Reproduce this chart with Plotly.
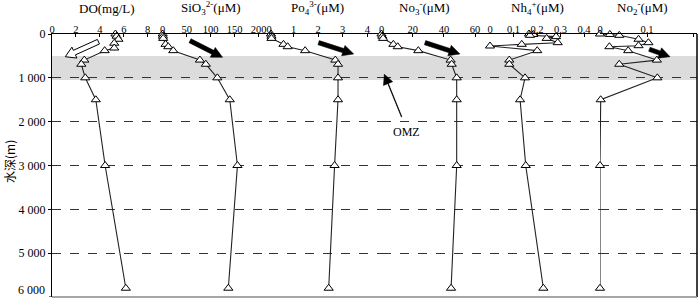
import plotly.graph_objects as go
import numpy as np

# ---------------- data ----------------
do_depth = [0, 50, 120, 210, 320, 380, 595, 690, 1000, 1500, 3000, 5800]
do_vals = [5.3, 5.4, 5.55, 5.2, 5.2, 4.4, 2.7, 2.45, 2.78, 3.66, 4.44, 6.17]

si_depth = [0, 50, 100, 236, 290, 380, 595, 690, 1000, 1500, 3000, 5800]
si_vals = [0, 0.5, 1, 6, 11.7, 22, 77.7, 90, 114, 140, 156, 137]

po_depth = [0, 50, 100, 236, 290, 380, 595, 690, 1000, 1500, 3000, 5800]
po_vals = [0.08, 0.1, 0.1, 0.59, 0.76, 1.47, 2.70, 2.81, 2.81, 2.81, 2.67, 2.43]

no3_depth = [0, 50, 100, 236, 290, 380, 595, 690, 1000, 1500, 3000, 5800]
no3_vals = [0, 0.5, 1, 7.6, 10.4, 23.6, 44.3, 45, 48.2, 48.2, 48.2, 44.6]

nh4_depth = [0, 10, 30, 60, 100, 198, 236, 274, 380, 595, 690, 1000, 1500, 3000, 5800]
nh4_vals = [0.166, 0.184, 0.17, 0.281, 0.241, 0.288, 0.135, 0.0, 0.201, 0.082, 0.082, 0.149, 0.128, 0.152, 0.227]

no2_depth = [0, 10, 30, 120, 198, 267, 290, 380, 595, 690, 1000, 1500, 3000, 5800]
no2_vals = [0.0, 0.021, 0.041, 0.082, 0.103, 0.082, 0.02, 0.06, 0.121, 0.041, 0.122, 0.0015, 0.0, 0.0]

titles = ["DO(mg/L)", "SiO<sub>3</sub><sup>2-</sup>(μM)", "Po<sub>4</sub><sup>3-</sup>(μM)",
          "No<sub>3</sub><sup>-</sup>(μM)", "Nh<sub>4</sub><sup>+</sup>(μM)", "No<sub>2</sub><sup>-</sup>(μM)"]
tick_sets = [[0, 2, 4, 6, 8], [0, 50, 100, 150, 200], [0, 1, 2, 3, 4],
             [0, 20, 40, 60], [0, 0.1, 0.2, 0.3, 0.4], [0, 0.1, 0.2]]
tick_texts = [["0", "2", "4", "6", "8"], ["0", "50", "100", "150", "200"], ["0", "1", "2", "3", "4"],
              ["0", "20", "40", "60"], ["0", "0.1", "0.2", "0.3", "0.4"], ["0", "0.1", "0.2"]]
x_ranges = [[0, 9.25], [0, 221.9], [0, 4.58], [0, 69.55], [0, 0.468], [0, 0.2064]]
depth_ticks = [0, 1000, 2000, 3000, 4000, 5000, 6000]
depth_tick_text = ["0", "1 000", "2 000", "3 000", "4 000", "5 000", "6 000"]
omz_band = [500, 1050]

series = [(do_depth, do_vals), (si_depth, si_vals), (po_depth, po_vals),
          (no3_depth, no3_vals), (nh4_depth, nh4_vals), (no2_depth, no2_vals)]

# ---------------- layout geometry (screen pixels) ----------------
W, H = 700, 298
PL, PR, PT, PB = 52, 697, 34, 297
L, R, T, B = PL, W - PR, PT, H - PB
PW, PH = PR - PL, PB - PT
bounds_px = [52, 162.7, 269, 381.5, 490, 600, 697]
domains = [[(bounds_px[i] - PL) / PW, (bounds_px[i + 1] - PL) / PW] for i in range(6)]
domains[-1][1] = 1.0

FONT = "Liberation Serif"

fig = go.Figure()
for i, (d, v) in enumerate(series):
    xa = "x" if i == 0 else f"x{i+1}"
    fig.add_trace(go.Scatter(
        x=v, y=d, xaxis=xa, yaxis="y", mode="lines+markers",
        line=dict(color="#222", width=1.1),
        marker=dict(symbol="triangle-up", size=8, color="white", line=dict(color="black", width=1)),
        showlegend=False, cliponaxis=False, hoverinfo="skip"))

layout = dict(
    width=W, height=H, margin=dict(l=L, r=R, t=T, b=B, autoexpand=False),
    paper_bgcolor="white", plot_bgcolor="white",
    font=dict(family=FONT, size=12, color="black"),
    yaxis=dict(range=[6000, 0], tickvals=depth_ticks[:-1], ticktext=depth_tick_text[:-1],
               showline=True, linecolor="black", linewidth=1, ticks="outside", ticklen=3,
               tickcolor="black", showgrid=True, griddash="dash", gridcolor="#333", gridwidth=1.4,
               zeroline=False, tickfont=dict(size=12, family=FONT), anchor="x", domain=[0, 1],
               automargin=False),
)
for i in range(6):
    key = "xaxis" if i == 0 else f"xaxis{i+1}"
    layout[key] = dict(domain=domains[i], range=x_ranges[i], side="top", anchor="y",
                       tickvals=tick_sets[i], ticktext=tick_texts[i], showline=True,
                       linecolor="black", linewidth=1, ticks="inside", ticklen=3, tickcolor="black",
                       showgrid=False, zeroline=False, tickfont=dict(size=10.5, family=FONT),
                       ticklabelstandoff=-4, automargin=False)
fig.update_layout(**layout)

shapes = []
shapes.append(dict(type="rect", xref="paper", yref="y", x0=0, x1=1, y0=omz_band[0], y1=omz_band[1],
                   fillcolor="#dcdcdc", line=dict(width=0), layer="below"))
shapes.append(dict(type="line", xref="paper", yref="paper", x0=1, x1=1, y0=0, y1=1,
                   line=dict(color="black", width=1.5)))
shapes.append(dict(type="line", xref="paper", yref="paper", x0=0, x1=1, y0=0, y1=0,
                   line=dict(color="#888", width=1.5)))


def to_px(i, val, depth):
    r0, r1 = x_ranges[i]
    x0p, x1p = bounds_px[i], bounds_px[i + 1]
    return x0p + (val - r0) / (r1 - r0) * (x1p - x0p), PT + depth / 6000 * PH


def to_paper(px, py):
    return (px - PL) / PW, (PB - py) / PH


def arrow_path(p0, p1, w, hw, hl):
    p0, p1 = np.array(p0, float), np.array(p1, float)
    u = (p1 - p0) / np.linalg.norm(p1 - p0)
    n = np.array([-u[1], u[0]])
    neck = p1 - u * hl
    pts = [p0 + n * w, neck + n * w, neck + n * hw, p1, neck - n * hw, neck - n * w, p0 - n * w]
    s = ""
    for k, p in enumerate(pts):
        xp, yp = to_paper(*p)
        s += ("M" if k == 0 else "L") + f"{xp:.5f},{yp:.5f} "
    return s + "Z"


black_arrows = [(1, 57, 153, 125, 532), (2, 2.02, 198, 3.45, 456),
                (3, 27.9, 198, 50.3, 456), (5, 0.105, 349, 0.149, 518)]
for (i, v0, d0, v1, d1) in black_arrows:
    shapes.append(dict(type="path", xref="paper", yref="paper",
                       path=arrow_path(to_px(i, v0, d0), to_px(i, v1, d1), 2.2, 5.5, 11),
                       fillcolor="black", line=dict(color="black", width=0.5)))
shapes.append(dict(type="path", xref="paper", yref="paper",
                   path=arrow_path(to_px(0, 3.88, 176), to_px(0, 1.11, 518), 2.5, 6, 10),
                   fillcolor="white", line=dict(color="black", width=1)))
tail = to_px(3, 12.9, 1890)
tip = to_px(3, 1.8, 920)
shapes.append(dict(type="line", xref="paper", yref="paper",
                   x0=to_paper(*tail)[0], y0=to_paper(*tail)[1],
                   x1=to_paper(*tip)[0], y1=to_paper(*tip)[1], line=dict(color="#999", width=1)))
shapes.append(dict(type="path", xref="paper", yref="paper",
                   path=arrow_path(tail, tip, 0.3, 5, 10), fillcolor="black", line=dict(color="black", width=0.5)))
shapes.append(dict(type="line", xref="paper", yref="y", x0=-3 / PW, x1=0, y0=depth_ticks[-1], y1=depth_ticks[-1],
                   line=dict(color="black", width=1)))
fig.update_layout(shapes=shapes)

annotations = []
title_px = [107, 211, 317, 424, 537, 642]
for t, cx in zip(titles, title_px):
    xp, yp = to_paper(cx, 8)
    annotations.append(dict(text=t, x=xp, y=yp, xref="paper", yref="paper", showarrow=False,
                            xanchor="center", yanchor="middle", font=dict(size=13, family=FONT)))
xp, yp = to_paper(406, 132)
annotations.append(dict(text="OMZ", x=xp, y=yp, xref="paper", yref="paper", showarrow=False,
                        xanchor="center", yanchor="middle", font=dict(size=12, family=FONT)))
xp, yp = to_paper(9, 162)
annotations.append(dict(text="水深(m)", x=xp, y=yp, xref="paper", yref="paper", showarrow=False,
                        textangle=-90, xanchor="center", yanchor="middle",
                        font=dict(size=12, family="Noto Sans CJK SC")))
# bottom depth label, kept just inside the figure edge
annotations.append(dict(text=depth_tick_text[-1], x=-6 / PW, y=to_paper(0, 298)[1], xref="paper", yref="paper",
                        showarrow=False, xanchor="right", yanchor="bottom",
                        font=dict(size=12, family=FONT), borderpad=0))
fig.update_layout(annotations=annotations)

fig.write_html("out.html", config={"displayModeBar": False},
               post_script="document.body.style.margin='0px';")
